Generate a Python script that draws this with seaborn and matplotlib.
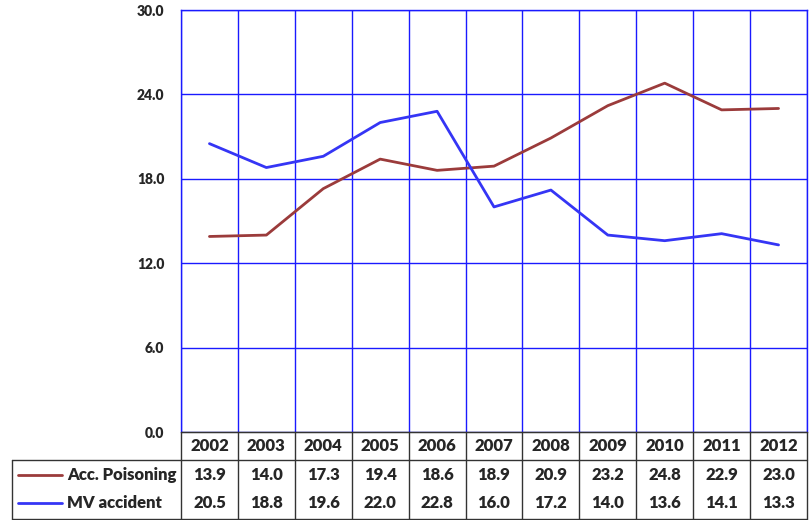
import matplotlib
matplotlib.use('Agg')
import matplotlib.pyplot as plt
from matplotlib.lines import Line2D
import seaborn as sns
import pandas as pd

years = ['2002', '2003', '2004', '2005', '2006', '2007', '2008', '2009', '2010', '2011', '2012']
acc_poisoning = [13.9, 14.0, 17.3, 19.4, 18.6, 18.9, 20.9, 23.2, 24.8, 22.9, 23.0]
mv_accident = [20.5, 18.8, 19.6, 22.0, 22.8, 16.0, 17.2, 14.0, 13.6, 14.1, 13.3]
series_names = ['Acc. Poisoning', 'MV accident']
colors = ['#9B3B3B', '#3535F5']
y_ticks = [0, 6, 12, 18, 24, 30]

sns.set_style('white')
plt.rcParams['font.family'] = ['Lato', 'DejaVu Sans']
TW = 'heavy'

W, H = 809, 520
fig = plt.figure(figsize=(W / 100, H / 100), dpi=100)

# plot area in pixels
px_left, px_right, px_top, px_bottom = 181, 807, 10, 432
ax = fig.add_axes([px_left / W, 1 - px_bottom / H, (px_right - px_left) / W, (px_bottom - px_top) / H])

df = pd.DataFrame({'x': list(range(len(years))) * 2,
                   'value': acc_poisoning + mv_accident,
                   'series': [series_names[0]] * len(years) + [series_names[1]] * len(years)})
sns.lineplot(data=df, x='x', y='value', hue='series', palette=colors, linewidth=2,
             sort=False, legend=False, ax=ax)

ax.set_xlim(-0.5, len(years) - 0.5)
ax.set_ylim(0, 30)
ax.set_yticks(y_ticks)
ax.set_yticklabels([f'{t:.1f}' for t in y_ticks], fontsize=10, fontweight=TW)
ax.set_xticks([i - 0.5 for i in range(len(years) + 1)])
ax.set_xticklabels([])
ax.tick_params(length=0, axis='y', pad=12)
ax.tick_params(length=0, axis='x')
ax.grid(True, color='#1a1aff', linewidth=1)
ax.set_xlabel('')
ax.set_ylabel('')
for s in ['top', 'right', 'left']:
    ax.spines[s].set_color('#1a1aff')
    ax.spines[s].set_linewidth(1)
ax.spines['bottom'].set_color('#222222')

# data table underneath
tab = fig.add_axes([0, 0, 1, 1])
tab.set_xlim(0, W)
tab.set_ylim(H, 0)
tab.axis('off')
tab.patch.set_alpha(0)

col_w = (px_right - px_left) / len(years)
edges = [px_left + i * col_w for i in range(len(years) + 1)]
label_left = 12
hdr_top, hdr_bot, tbl_bot = px_bottom, 460, 519
row_y = [475, 503]
lc = '#333333'

tab.plot([px_left, px_right], [hdr_top, hdr_top], color=lc, lw=1)
tab.plot([label_left, px_right], [hdr_bot, hdr_bot], color=lc, lw=1)
tab.plot([label_left, px_right], [tbl_bot, tbl_bot], color=lc, lw=1)
tab.plot([label_left, label_left], [hdr_bot, tbl_bot], color=lc, lw=1)
for e in edges:
    tab.plot([e, e], [hdr_top, tbl_bot], color=lc, lw=1)

fs = 12
for i, yr in enumerate(years):
    cx = (edges[i] + edges[i + 1]) / 2
    tab.text(cx, (hdr_top + hdr_bot) / 2, yr, ha='center', va='center', fontsize=fs, fontweight=TW)
    tab.text(cx, row_y[0], f'{acc_poisoning[i]:.1f}', ha='center', va='center', fontsize=fs, fontweight=TW)
    tab.text(cx, row_y[1], f'{mv_accident[i]:.1f}', ha='center', va='center', fontsize=fs, fontweight=TW)

for name, c, y in zip(series_names, colors, row_y):
    tab.add_line(Line2D([18, 62], [y, y], color=c, lw=2))
    tab.text(67, y, name, ha='left', va='center', fontsize=fs, fontweight=TW)

fig.savefig('out.png', dpi=100)
